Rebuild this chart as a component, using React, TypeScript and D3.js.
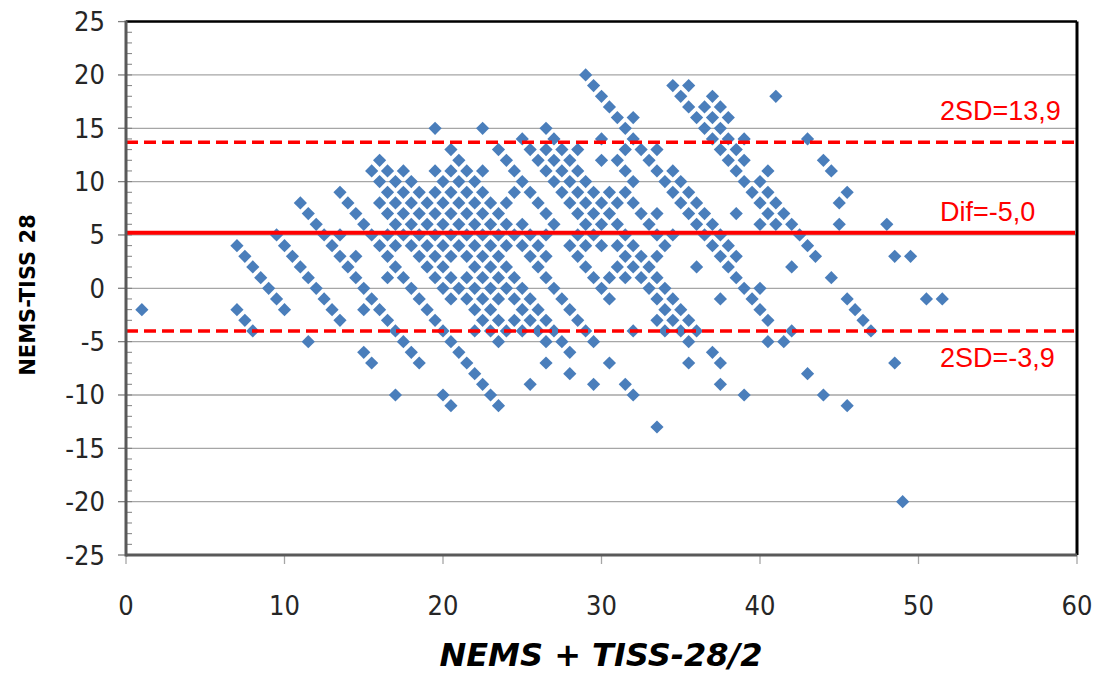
import React from "react";
import * as d3 from "d3";

const xTickValues = [0, 10, 20, 30, 40, 50, 60];
const yTickValues = [25, 20, 15, 10, 5, 0, -5, -10, -15, -20, -25];
const meanDifference = 5.2;
const upperLimit = 13.7;
const lowerLimit = -4.0;
const upperLabel = "2SD=13,9";
const meanLabel = "Dif=-5,0";
const lowerLabel = "2SD=-3,9";
const xTitle = "NEMS + TISS-28/2";
const yTitle = "NEMS-TISS 28";

// difference (NEMS - TISS) levels and the means observed at each level
const differenceLevels = [
  20, 19, 18, 17, 16, 15, 14, 13, 12, 11, 10, 9, 8, 7, 6, 5, 4, 3, 2, 1, 0,
  -1, -2, -3, -4, -5, -6, -7, -8, -9, -10, -11, -13, -20,
];
const meansAtLevel: number[][] = [
  [29],
  [29.5, 34.5, 35.5],
  [30, 35, 37, 41],
  [30.5, 35.5, 36.5, 37.5],
  [31, 32, 36, 37, 38],
  [19.5, 22.5, 26.5, 31.5, 36.5, 37.5],
  [25, 27, 30, 32, 37, 38, 39, 43],
  [20.5, 23.5, 25.5, 26.5, 27.5, 28.5, 31.5, 32.5, 33.5, 37.5, 38.5],
  [16, 21, 24, 26, 27, 28, 30, 31, 33, 38, 39, 44],
  [15.5, 16.5, 17.5, 19.5, 20.5, 21.5, 22.5, 24.5, 26.5, 27.5, 28.5, 31.5, 33.5, 34.5, 38.5, 40.5, 44.5],
  [16, 17, 18, 20, 21, 22, 25, 27, 28, 29, 32, 34, 35, 39, 40],
  [13.5, 16.5, 17.5, 18.5, 19.5, 20.5, 21.5, 22.5, 24.5, 25.5, 27.5, 28.5, 29.5, 30.5, 31.5, 34.5, 35.5, 39.5, 40.5, 45.5],
  [11, 14, 16, 17, 18, 19, 20, 21, 22, 23, 24, 26, 28, 29, 30, 31, 32, 35, 36, 40, 41, 45],
  [11.5, 14.5, 16.5, 17.5, 18.5, 19.5, 20.5, 21.5, 22.5, 23.5, 26.5, 28.5, 29.5, 30.5, 32.5, 33.5, 35.5, 36.5, 38.5, 40.5, 41.5],
  [12, 15, 17, 18, 19, 20, 21, 22, 23, 24, 25, 27, 29, 30, 31, 33, 36, 37, 40, 41, 42, 45, 48],
  [9.5, 12.5, 13.5, 15.5, 16.5, 17.5, 18.5, 19.5, 20.5, 21.5, 22.5, 23.5, 24.5, 25.5, 26.5, 28.5, 29.5, 31.5, 33.5, 34.5, 36.5, 37.5, 42.5],
  [7, 10, 13, 16, 17, 18, 19, 20, 21, 22, 23, 24, 25, 26, 28, 29, 30, 31, 32, 34, 37, 38, 43],
  [7.5, 10.5, 13.5, 14.5, 16.5, 18.5, 19.5, 20.5, 21.5, 22.5, 23.5, 25.5, 26.5, 28.5, 31.5, 32.5, 33.5, 37.5, 38.5, 43.5, 48.5, 49.5],
  [8, 11, 14, 17, 19, 20, 22, 23, 24, 26, 29, 31, 32, 33, 36, 38, 42],
  [8.5, 11.5, 14.5, 16.5, 17.5, 19.5, 20.5, 21.5, 22.5, 23.5, 24.5, 26.5, 29.5, 30.5, 31.5, 32.5, 33.5, 38.5, 44.5],
  [9, 12, 15, 18, 20, 21, 22, 23, 24, 25, 27, 30, 33, 34, 39, 40],
  [9.5, 12.5, 15.5, 18.5, 20.5, 21.5, 22.5, 23.5, 24.5, 25.5, 27.5, 30.5, 33.5, 34.5, 37.5, 39.5, 45.5, 50.5, 51.5],
  [1, 7, 10, 13, 15, 16, 19, 22, 23, 25, 26, 28, 34, 35, 40, 46],
  [7.5, 13.5, 16.5, 19.5, 22.5, 23.5, 24.5, 25.5, 26.5, 28.5, 33.5, 34.5, 35.5, 40.5, 46.5],
  [8, 17, 20, 22, 23, 24, 25, 26, 27, 29, 32, 34, 35, 36, 42, 47],
  [11.5, 17.5, 20.5, 23.5, 26.5, 27.5, 29.5, 35.5, 40.5, 41.5],
  [15, 18, 21, 28, 37],
  [15.5, 18.5, 21.5, 26.5, 30.5, 35.5, 37.5, 48.5],
  [22, 28, 43],
  [22.5, 25.5, 29.5, 31.5, 37.5],
  [17, 20, 23, 32, 39, 44],
  [20.5, 23.5, 45.5],
  [33.5],
  [49],
];

const W = 1098;
const H = 673;
const PLOT = { left: 126, right: 1077, top: 21.6, bottom: 555 };

export default function App() {
  const x = d3.scaleLinear().domain([0, 60]).range([PLOT.left, PLOT.right]);
  const y = d3.scaleLinear().domain([-25, 25]).range([PLOT.bottom, PLOT.top]);

  const points = differenceLevels.flatMap((d, i) =>
    meansAtLevel[i].map((m) => ({ x: m, y: d }))
  );
  const minorTicks = d3.range(-25, 26, 1);
  const r = 6.6;
  const diamond = `M0,${-r}L${r},0L0,${r}L${-r},0Z`;
  const tickFont = "'Liberation Sans Narrow', 'DejaVu Sans Condensed', 'Liberation Sans', Arial, sans-serif";
  const red = "#FF0000";

  return (
    <svg
      width={W}
      height={H}
      style={{ position: "absolute", left: 0, top: 0, background: "#fff" }}
    >
      <rect x={0} y={0} width={W} height={H} fill="#fff" />
      {yTickValues.map((t) => (
        <line key={"g" + t} x1={PLOT.left} x2={PLOT.right} y1={y(t)} y2={y(t)} stroke="#A6A6A6" strokeWidth={1.3} />
      ))}
      {minorTicks.map((t) => (
        <line key={"m" + t} x1={PLOT.left} x2={PLOT.left + 6} y1={y(t)} y2={y(t)} stroke="#7F7F7F" strokeWidth={1} />
      ))}
      {yTickValues.map((t) => (
        <line key={"t" + t} x1={PLOT.left - 8} x2={PLOT.left} y1={y(t)} y2={y(t)} stroke="#7F7F7F" strokeWidth={1.3} />
      ))}
      {xTickValues.map((t) => (
        <line key={"xt" + t} x1={x(t)} x2={x(t)} y1={PLOT.bottom} y2={PLOT.bottom + 9} stroke="#A6A6A6" strokeWidth={1.3} />
      ))}
      {points.map((p, i) => (
        <path key={"p" + i} d={diamond} transform={`translate(${x(p.x)},${y(p.y)})`} fill="#4A7EBB" />
      ))}
      <line x1={PLOT.left} x2={PLOT.right - 2} y1={y(meanDifference)} y2={y(meanDifference)} stroke={red} strokeWidth={4} />
      <line x1={PLOT.left} x2={PLOT.right - 2} y1={y(upperLimit)} y2={y(upperLimit)} stroke={red} strokeWidth={3.5} strokeDasharray="12 6" />
      <line x1={PLOT.left} x2={PLOT.right - 2} y1={y(lowerLimit)} y2={y(lowerLimit)} stroke={red} strokeWidth={3.5} strokeDasharray="12 6" />
      <line x1={PLOT.left} x2={PLOT.right} y1={PLOT.top} y2={PLOT.top} stroke="#000" strokeWidth={2.5} />
      <line x1={PLOT.right} x2={PLOT.right} y1={PLOT.top} y2={PLOT.bottom} stroke="#000" strokeWidth={3} />
      <line x1={PLOT.left} x2={PLOT.left} y1={PLOT.top - 1} y2={PLOT.bottom + 1.5} stroke="#595959" strokeWidth={3} />
      <line x1={PLOT.left} x2={PLOT.right} y1={PLOT.bottom} y2={PLOT.bottom} stroke="#595959" strokeWidth={3} />
      <g fill={red} fontFamily="'Liberation Sans', Arial, sans-serif" fontSize={27}>
        <text x={940} y={y(upperLimit) - 22}>{upperLabel}</text>
        <text x={940} y={y(meanDifference) - 12}>{meanLabel}</text>
        <text x={940} y={y(lowerLimit) + 36}>{lowerLabel}</text>
      </g>
      <g fill="#262626" fontFamily={tickFont} fontSize={27}>
        {yTickValues.map((t) => (
          <text key={"yl" + t} x={PLOT.left - 21} y={y(t)} textAnchor="end" dominantBaseline="central">
            {t}
          </text>
        ))}
        {xTickValues.map((t) => (
          <text key={"xl" + t} x={x(t)} y={615} textAnchor="middle">
            {t}
          </text>
        ))}
      </g>
      <text
        x={601}
        y={666}
        textAnchor="middle"
        fontFamily="'DejaVu Sans', Verdana, sans-serif"
        fontWeight="bold"
        fontStyle="italic"
        fontSize={32}
        fill="#000"
      >
        {xTitle}
      </text>
      <text
        transform={`translate(35, ${295}) rotate(-90)`}
        textAnchor="middle"
        fontFamily="'DejaVu Sans', Verdana, sans-serif"
        fontWeight="bold"
        fontSize={21}
        fill="#000"
      >
        {yTitle}
      </text>
    </svg>
  );
}
